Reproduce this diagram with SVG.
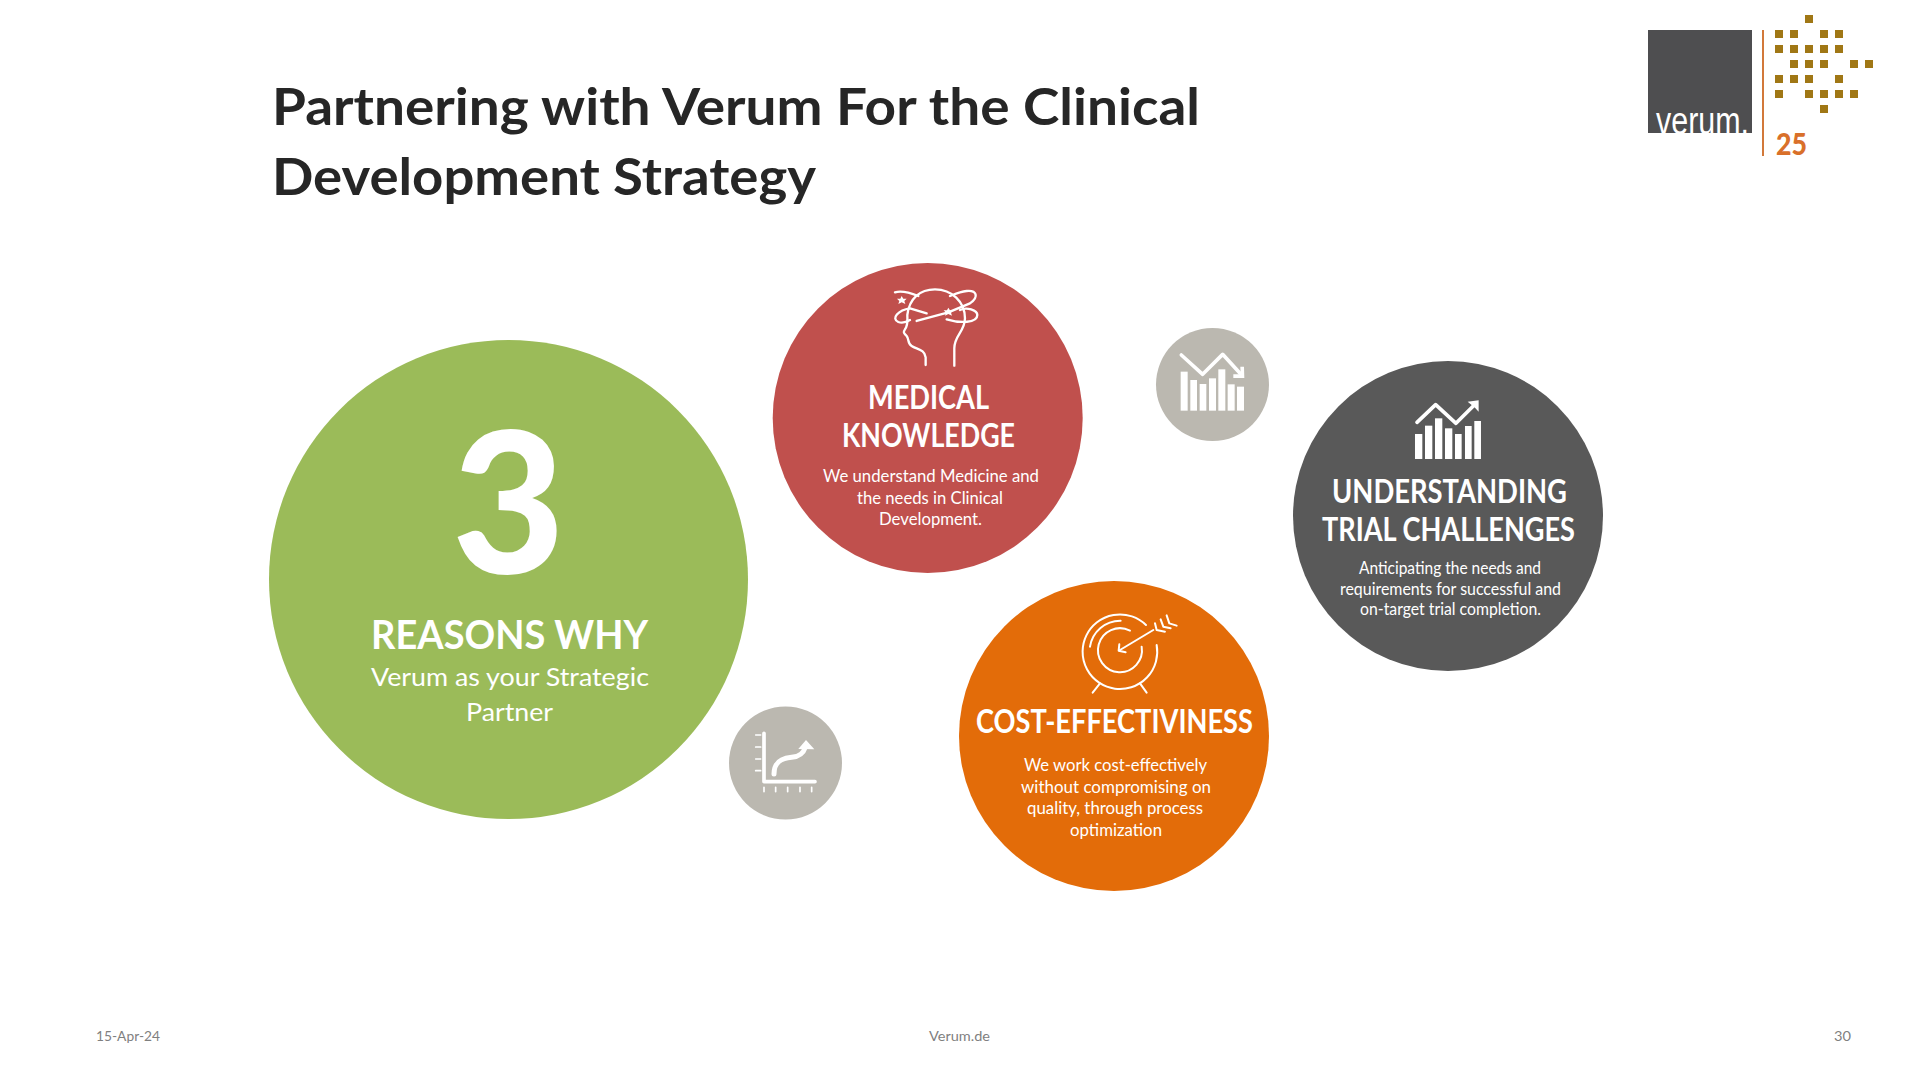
<svg xmlns="http://www.w3.org/2000/svg" width="1920" height="1080" viewBox="0 0 1920 1080">
<style>
text{font-family:"Lato","Carlito","Open Sans",sans-serif;text-anchor:start}
.w{fill:#fff}
.h{fill:#fff;font-weight:700;font-size:32px}
.d{fill:#fff;font-size:17px}
.t{fill:#262626;font-weight:700;font-size:52px}
.f{fill:#7f7f7f;font-size:14px}
.ln{fill:none;stroke:#fff;stroke-linecap:round;stroke-linejoin:round}
.g{fill:#A07715}
</style>
<defs><clipPath id="lc"><rect x="1648" y="30" width="104" height="103"/></clipPath></defs>
<rect width="1920" height="1080" fill="#fff"/>
<g id="title">
<text class="t" x="272" y="125" textLength="928" lengthAdjust="spacingAndGlyphs">Partnering with Verum For the Clinical</text>
<text class="t" x="272" y="195" textLength="544" lengthAdjust="spacingAndGlyphs">Development Strategy</text>
</g>
<g id="logo">
<rect x="1648" y="30" width="104" height="103" fill="#4E4E50"/>
<text x="1656" y="134" clip-path="url(#lc)" fill="#fff" font-size="38" textLength="93" lengthAdjust="spacingAndGlyphs" style="font-family:'Liberation Sans',sans-serif">verum.</text>
<rect x="1762" y="30" width="2" height="126" fill="#D2793A"/>
<g class="g">
<rect x="1805" y="15" width="8" height="8"/>
<rect x="1775" y="30" width="8" height="8"/><rect x="1790" y="30" width="8" height="8"/><rect x="1820" y="30" width="8" height="8"/><rect x="1835" y="30" width="8" height="8"/>
<rect x="1775" y="45" width="8" height="8"/><rect x="1790" y="45" width="8" height="8"/><rect x="1805" y="45" width="8" height="8"/><rect x="1820" y="45" width="8" height="8"/><rect x="1835" y="45" width="8" height="8"/>
<rect x="1790" y="60" width="8" height="8"/><rect x="1805" y="60" width="8" height="8"/><rect x="1820" y="60" width="8" height="8"/><rect x="1850" y="60" width="8" height="8"/><rect x="1865" y="60" width="8" height="8"/>
<rect x="1775" y="75" width="8" height="8"/><rect x="1790" y="75" width="8" height="8"/><rect x="1805" y="75" width="8" height="8"/><rect x="1835" y="75" width="8" height="8"/>
<rect x="1775" y="90" width="8" height="8"/><rect x="1805" y="90" width="8" height="8"/><rect x="1820" y="90" width="8" height="8"/><rect x="1835" y="90" width="8" height="8"/><rect x="1850" y="90" width="8" height="8"/>
<rect x="1820" y="105" width="8" height="8"/>
</g>
<text x="1776" y="155" fill="#D9702A" font-size="31" font-weight="900" textLength="31" lengthAdjust="spacingAndGlyphs">25</text>
</g>
<g id="reasons">
<circle cx="508.500" cy="579.500" r="239.500" fill="#9BBB59"/>
<text class="w" x="452" y="573" font-size="197" font-weight="900" textLength="113" lengthAdjust="spacingAndGlyphs">3</text>
<text class="w" x="371" y="649" font-size="40" font-weight="700" textLength="277" lengthAdjust="spacingAndGlyphs">REASONS WHY</text>
<text class="w" x="371" y="686" font-size="25" textLength="278" lengthAdjust="spacingAndGlyphs">Verum as your Strategic</text>
<text class="w" x="466" y="721" font-size="25" textLength="87" lengthAdjust="spacingAndGlyphs">Partner</text>
</g>
<g id="medical">
<circle cx="927.700" cy="418" r="155" fill="#C0504D"/>
<g transform="translate(770 260) scale(.3333)">
<path class="ln" stroke-width="7" d="M467,315V292C465,268 440,268 425,258C412,250 418,238 410,228C403,220 398,218 405,208C415,195 412,180 412,165C418,115 450,88 495,88C545,88 585,125 585,175C585,215 553,225 553,265V317"/>
<path class="ln" stroke-width="7" d="M440,183L535,157L600,130C628,110 620,90 590,93C570,95 555,102 540,108"/>
<path class="ln" stroke-width="7" d="M470,160L420,145C385,150 362,175 385,186C395,190 410,186 420,180"/>
<path class="ln" stroke-width="7" d="M530,178C570,190 622,190 622,165C622,150 590,140 570,150"/>
<path class="ln" stroke-width="7" d="M375,97C390,92 420,98 445,108"/>
<path fill="#fff" d="M395,108L400,116L410,116L403,123L406,132L395,127L385,132L388,123L381,116L391,116Z"/>
<path fill="#fff" d="M535,143L540,151L550,151L543,158L546,167L535,162L525,167L528,158L521,151L531,151Z"/>
</g>
<text class="h" x="868" y="409" textLength="121" lengthAdjust="spacingAndGlyphs">MEDICAL</text>
<text class="h" x="842" y="447" textLength="173" lengthAdjust="spacingAndGlyphs">KNOWLEDGE</text>
<text class="d" x="823" y="482" textLength="216" lengthAdjust="spacingAndGlyphs">We understand Medicine and</text>
<text class="d" x="857" y="504" textLength="146" lengthAdjust="spacingAndGlyphs">the needs in Clinical</text>
<text class="d" x="879" y="525" textLength="103" lengthAdjust="spacingAndGlyphs">Development.</text>
</g>
<g id="down-chart">
<circle cx="1212.500" cy="384.500" r="56.500" fill="#BBB8B0"/>
<g transform="translate(1150 320) scale(.3333)" fill="#fff">
<rect x="92" y="155" width="21" height="117"/><rect x="121" y="180" width="20" height="92"/><rect x="149" y="192" width="20" height="80"/><rect x="177" y="175" width="21" height="97"/><rect x="205" y="148" width="21" height="124"/><rect x="233" y="193" width="21" height="79"/><rect x="261" y="200" width="21" height="72"/>
<path class="ln" stroke-width="11" d="M94,105L158,163L218,103L270,160"/>
<path d="M250,163L272,163L271,140L282,140L283,174L250,174Z"/>
</g>
</g>
<g id="trial">
<circle cx="1448" cy="516" r="155" fill="#595959"/>
<g transform="translate(1290 360) scale(.3333)" fill="#fff">
<rect x="375" y="222" width="22" height="75"/><rect x="405" y="197" width="22" height="100"/><rect x="435" y="175" width="22" height="122"/><rect x="465" y="205" width="22" height="92"/><rect x="495" y="222" width="20" height="75"/><rect x="525" y="198" width="20" height="99"/><rect x="553" y="183" width="20" height="114"/>
<path class="ln" stroke-width="11" d="M381,187L437,134L498,190L553,135"/>
<path d="M533,125L566,121L566,155L555,143L545,135Z"/>
</g>
<text class="h" x="1332" y="503" textLength="235" lengthAdjust="spacingAndGlyphs">UNDERSTANDING</text>
<text class="h" x="1322" y="541" textLength="253" lengthAdjust="spacingAndGlyphs">TRIAL CHALLENGES</text>
<text class="d" x="1359" y="574" textLength="182" lengthAdjust="spacingAndGlyphs">Anticipating the needs and</text>
<text class="d" x="1340" y="595" textLength="221" lengthAdjust="spacingAndGlyphs">requirements for successful and</text>
<text class="d" x="1360" y="615" textLength="181" lengthAdjust="spacingAndGlyphs">on-target trial completion.</text>
</g>
<g id="cost">
<circle cx="1114" cy="736" r="155" fill="#E36C09"/>
<g transform="translate(960 580) scale(.3333)">
<path class="ln" stroke-width="6" d="M558,135A112,112 0 1 0 590,195"/>
<path class="ln" stroke-width="6" d="M390,200A92,92 0 0 1 482,122"/>
<path class="ln" stroke-width="6" d="M510,152A66,66 0 1 0 545,200"/>
<path class="ln" stroke-width="6" d="M480,210L580,150M478,193L476,212L497,217"/>
<path class="ln" stroke-width="6" d="M420,310L398,338M540,310L560,338"/>
<path class="ln" stroke-width="6" d="M585,130L590,150L615,155M602,118L610,140L632,145M620,106L628,130L650,137"/>
</g>
<text class="h" x="976" y="733" textLength="277" lengthAdjust="spacingAndGlyphs">COST-EFFECTIVINESS</text>
<text class="d" x="1024" y="771" textLength="183" lengthAdjust="spacingAndGlyphs">We work cost-effectively</text>
<text class="d" x="1021" y="793" textLength="190" lengthAdjust="spacingAndGlyphs">without compromising on</text>
<text class="d" x="1027" y="814" textLength="176" lengthAdjust="spacingAndGlyphs">quality, through process</text>
<text class="d" x="1070" y="836" textLength="92" lengthAdjust="spacingAndGlyphs">optimization</text>
</g>
<g id="growth-chart">
<circle cx="785.500" cy="763" r="56.500" fill="#BBB8B0"/>
<g transform="translate(720 700) scale(.3333)">
<path class="ln" stroke-width="11" stroke-linecap="butt" d="M132,100V245H285"/>
<path class="ln" stroke-width="5" d="M107,105H122M107,141H122M107,177H122M107,212H122M132,262V275M167,262V275M203,262V275M240,262V275M275,262V275"/>
<path class="ln" stroke-width="15" d="M162,222C162,185 185,175 215,172C240,170 250,160 256,142"/>
<path fill="#fff" d="M258,120L283,148L235,147Z"/>
</g>
</g>
<g id="footer">
<text class="f" x="96" y="1041" textLength="64" lengthAdjust="spacingAndGlyphs">15-Apr-24</text>
<text class="f" x="929" y="1041" textLength="61" lengthAdjust="spacingAndGlyphs">Verum.de</text>
<text class="f" x="1834" y="1041" textLength="17" lengthAdjust="spacingAndGlyphs">30</text>
</g>
</svg>
